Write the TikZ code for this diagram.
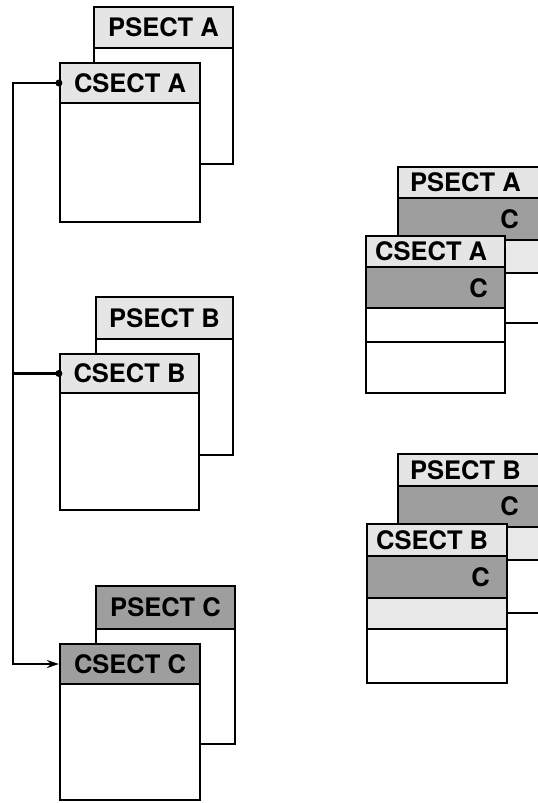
\documentclass[tikz,border=0pt]{standalone}
\usepackage{fontspec}
\setsansfont{TeX Gyre Heros}
\usetikzlibrary{arrows.meta}
\definecolor{hdrlight}{gray}{0.90}
\definecolor{banddark}{gray}{0.62}
\definecolor{bandlight}{gray}{0.91}
\tikzset{
  box/.style={draw, line width=2.2pt, fill=white},
  hdr/.style={draw, line width=2.2pt, fill=hdrlight, inner sep=0pt, font=\sffamily\bfseries\fontsize{25.5}{25.5}\selectfont},
  lbl/.style={inner sep=0pt, anchor=west, font=\sffamily\bfseries\fontsize{25.5}{25.5}\selectfont},
  clbl/.style={inner sep=0pt, anchor=east, font=\sffamily\bfseries\fontsize{25.5}{25.5}\selectfont},
  rule/.style={line width=2.2pt},
  conn/.style={line width=2.4pt}
}
\begin{document}
\begin{tikzpicture}[x=1pt, y=-1pt]
  \clip (0,0) rectangle (538,803);
  \fill[white] (0,0) rectangle (538,803);

  % left column, A
  \draw[box] (94,7) rectangle (233,164);
  \node[hdr, minimum width=139pt, minimum height=41pt] (psA) at (163.5,27.5) {PSECT A};
  \draw[box] (60,63) rectangle (200,222);
  \node[hdr, minimum width=140pt, minimum height=40pt] (csA) at (130,83) {CSECT A};

  % left column, B
  \draw[box] (96,297) rectangle (233,455);
  \node[hdr, minimum width=137pt, minimum height=42pt] (psB) at (164.5,318) {PSECT B};
  \draw[box] (60,354) rectangle (199,510);
  \node[hdr, minimum width=139pt, minimum height=39pt] (csB) at (129.5,373.5) {CSECT B};

  % left column, C
  \draw[box] (96,586) rectangle (235,744);
  \node[hdr, fill=banddark, minimum width=139pt, minimum height=43pt] (psC) at (165.5,607.5) {PSECT C};
  \draw[box] (60,644) rectangle (200,800);
  \node[hdr, fill=banddark, minimum width=140pt, minimum height=40pt] (csC) at (130,664) {CSECT C};

  % connectors
  \draw[conn, -{Stealth[length=12pt, width=8pt]}] (csA.west) -- ++(-46,0) |- (csC.west);
  \draw[conn] (csB.west) -- ++(-46,0);
  \fill (csA.west) circle (3.5pt);
  \fill (csB.west) circle (3.5pt);

  % right column, A
  \fill[hdrlight] (398,167) rectangle (541,198);
  \fill[banddark] (398,198) rectangle (541,240);
  \fill[bandlight] (398,240) rectangle (541,273);
  \draw[rule] (398,167) rectangle (541,323);
  \draw[rule] (398,198) -- (541,198);
  \draw[rule] (398,240) -- (541,240);
  \draw[rule] (398,273) -- (541,273);
  \node[lbl] (rpA) at (410,182.5) {PSECT A};
  \node[clbl] (rpAc) at (519,219) {C};

  \fill[white] (366,236) rectangle (505,393);
  \fill[hdrlight] (366,236) rectangle (505,267);
  \fill[banddark] (366,267) rectangle (505,308);
  \draw[rule] (366,236) rectangle (505,393);
  \draw[rule] (366,267) -- (505,267);
  \draw[rule] (366,308) -- (505,308);
  \draw[rule] (366,342) -- (505,342);
  \node[lbl] (rcA) at (375,251.5) {CSECT A};
  \node[clbl] (rcAc) at (488,288) {C};

  % right column, B
  \fill[hdrlight] (398,454) rectangle (541,486);
  \fill[banddark] (398,486) rectangle (541,527);
  \fill[bandlight] (398,527) rectangle (541,560);
  \draw[rule] (398,454) rectangle (541,613);
  \draw[rule] (398,486) -- (541,486);
  \draw[rule] (398,527) -- (541,527);
  \draw[rule] (398,560) -- (541,560);
  \node[lbl] (rpB) at (410,470) {PSECT B};
  \node[clbl] (rpBc) at (519,506.5) {C};

  \fill[white] (367,524) rectangle (507,683);
  \fill[hdrlight] (367,524) rectangle (507,556);
  \fill[banddark] (367,556) rectangle (507,598);
  \fill[bandlight] (367,598) rectangle (507,629);
  \draw[rule] (367,524) rectangle (507,683);
  \draw[rule] (367,556) -- (507,556);
  \draw[rule] (367,598) -- (507,598);
  \draw[rule] (367,629) -- (507,629);
  \node[lbl] (rcB) at (376,540) {CSECT B};
  \node[clbl] (rcBc) at (490,577) {C};
\end{tikzpicture}
\end{document}
